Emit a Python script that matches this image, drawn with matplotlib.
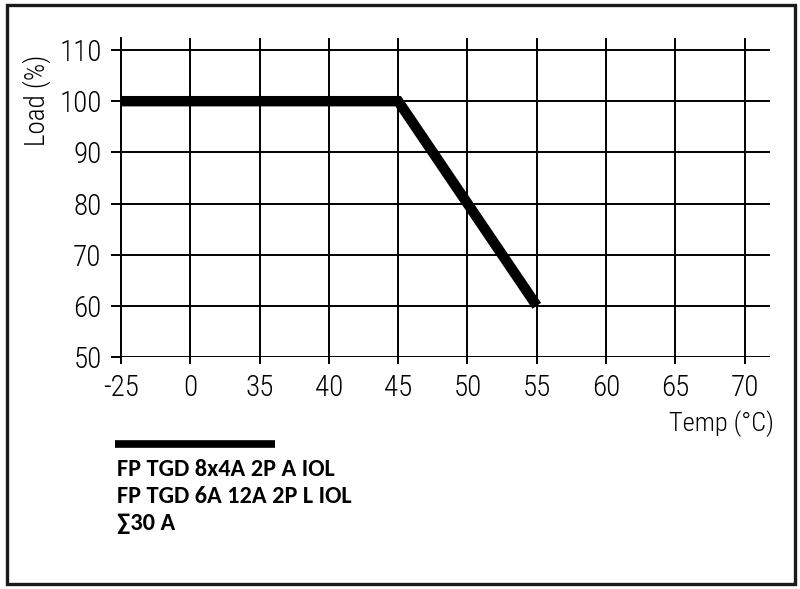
import matplotlib.pyplot as plt
from matplotlib.patches import Rectangle

# category ticks on the temperature axis (equally spaced, not to scale)
temp_ticks = ['-25', '0', '35', '40', '45', '50', '55', '60', '65', '70']
load_ticks = [50, 60, 70, 80, 90, 100, 110]

# derating curve
curve_temp = ['-25', '45', '55']
curve_load = [100, 100, 60]

legend_lines = ['FP TGD 8x4A 2P A IOL', 'FP TGD 6A 12A 2P L IOL', '\u221130 A']

narrow = ['Roboto Condensed', 'DejaVu Sans']
bold_font = ['Carlito', 'DejaVu Sans']

fig = plt.figure(figsize=(8, 5.89), dpi=100)
ax = fig.add_axes([121 / 800, 1 - 357 / 589, (770 - 121) / 800, (357 - 38) / 589])

x = [temp_ticks.index(t) for t in curve_temp]
ax.plot(x, curve_load, color='black', lw=7.5, solid_capstyle='butt',
        solid_joinstyle='miter', zorder=3)

ax.set_xlim(0, 9.366)
ax.set_ylim(50, 112.35)
ax.set_xticks(range(len(temp_ticks)))
ax.set_xticklabels(temp_ticks)
ax.set_yticks(load_ticks)
ax.grid(True, color='black', lw=1.4)
for s in ax.spines.values():
    s.set_visible(False)
ax.spines['left'].set_visible(True)
ax.spines['left'].set_linewidth(1.4)
ax.tick_params(axis='x', direction='out', length=5, width=1.4, pad=7)
ax.tick_params(axis='y', direction='out', length=7, width=1.4, pad=7)
for lab in ax.get_xticklabels() + ax.get_yticklabels():
    lab.set_family(narrow)
    lab.set_fontweight(300)
    lab.set_fontsize(21)

fig.text(37 / 800, 1 - 100 / 589, 'Load (%)', rotation=90, ha='center', va='center',
         family=narrow, fontweight=300, fontsize=19.5)
fig.text(774 / 800, 1 - 424 / 589, 'Temp (\u00b0C)', ha='right', va='center',
         family=narrow, fontweight=300, fontsize=19)

# legend sample line and text
fig.add_artist(plt.Line2D([115 / 800, 275 / 800], [1 - 444 / 589, 1 - 444 / 589],
                          color='black', lw=5.5, solid_capstyle='butt'))
for i, txt in enumerate(legend_lines):
    fig.text(117 / 800, 1 - (476 + 27 * i) / 589, txt, ha='left', va='baseline',
             family=bold_font, fontweight='bold', fontsize=17.5)

# outer frame
fig.add_artist(Rectangle((7 / 800, 5 / 589), 788 / 800, 579 / 589, transform=fig.transFigure,
                         fill=False, edgecolor='#1a1a1a', lw=2.4))

fig.savefig('out.png', dpi=100)
